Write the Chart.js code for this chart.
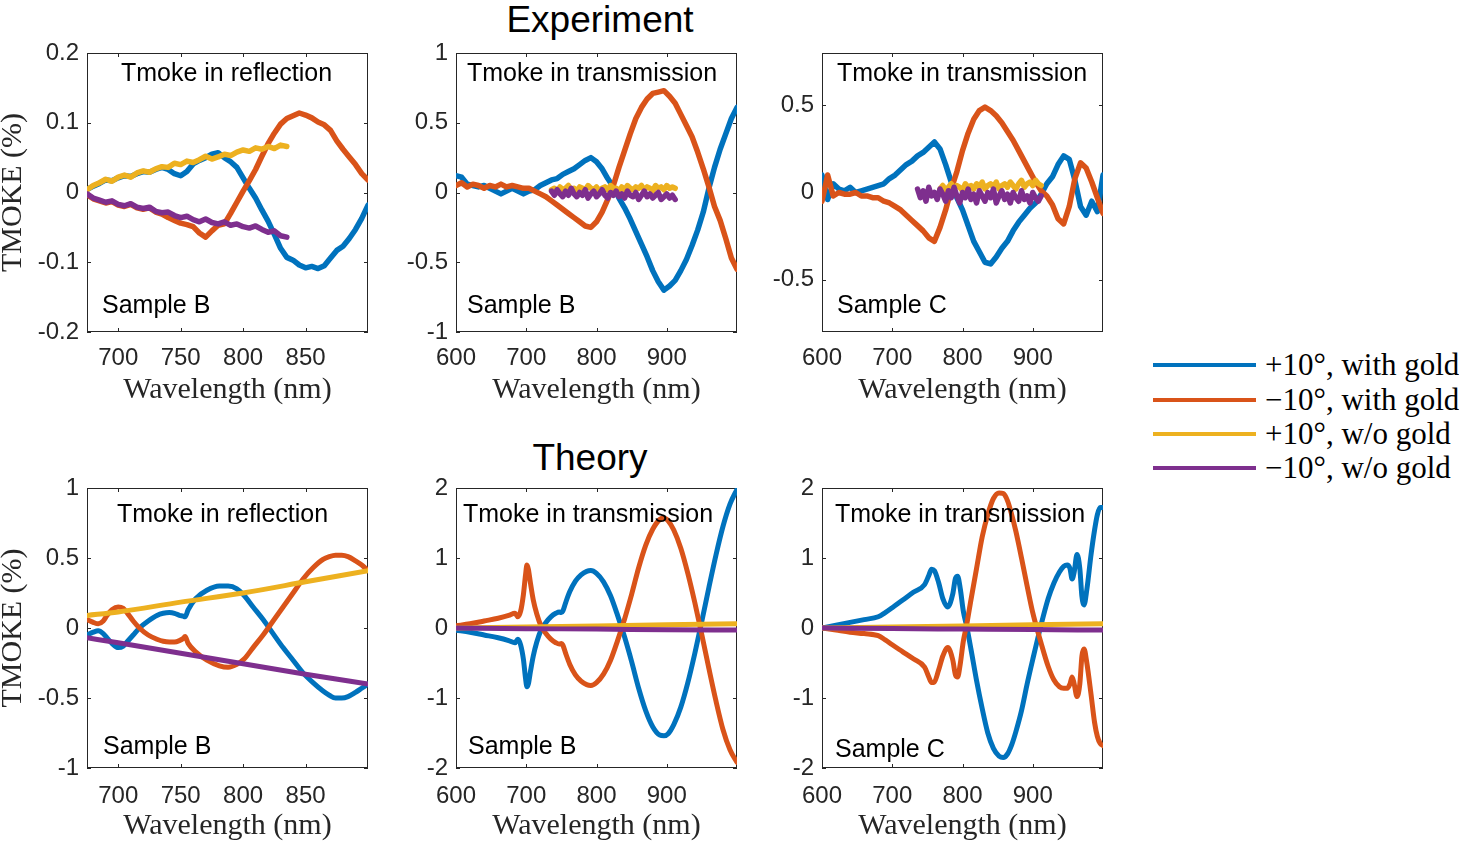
<!DOCTYPE html>
<html>
<head>
<meta charset="utf-8">
<script src="https://cdn.jsdelivr.net/npm/chart.js@4.4.1/dist/chart.umd.min.js"></script>
<style>
  body { margin: 0; background: #fff; }
  #fig { position: relative; width: 1459px; height: 842px; overflow: hidden; background: #fff; }
  #fig canvas { position: absolute; }
  .hdr { position: absolute; font-family: "Liberation Sans", Arial, sans-serif; font-size: 37px; color: #000;
         transform: translate(-50%, -50%); white-space: nowrap; }
  .legline { position: absolute; left: 1153px; width: 103px; height: 4px; }
  .legtxt { position: absolute; left: 1265px; font-family: "Liberation Serif", serif; font-size: 31px; color: #000;
            transform: translateY(-50%); white-space: nowrap; }
</style>
</head>
<body>
<div id="fig">
  <div class="hdr" style="left:600px; top:20px;">Experiment</div>
  <div class="hdr" style="left:590px; top:458px;">Theory</div>
  <canvas id="tl"></canvas>
  <canvas id="tm"></canvas>
  <canvas id="tr"></canvas>
  <canvas id="bl"></canvas>
  <canvas id="bm"></canvas>
  <canvas id="br"></canvas>
  <div id="legend"></div>
</div>
<script>
// series
const seriesLabels = ['+10°, with gold', '\u221210°, with gold', '+10°, w/o gold', '\u221210°, w/o gold'];
const seriesColors = ['#0072BD', '#D95319', '#EDB120', '#7E2F8E'];

// ticks
const tlTicksX = [700, 750, 800, 850];
const wideTicksX = [600, 700, 800, 900];
const tlTicksY = [-0.2, -0.1, 0, 0.1, 0.2];
const tmTicksY = [-1, -0.5, 0, 0.5, 1];
const trTicksY = [-0.5, 0, 0.5];
const blTicksY = [-1, -0.5, 0, 0.5, 1];
const theoryTicksY = [-2, -1, 0, 1, 2];

// experiment, reflection, sample B
const tlWl = [675,680,685,690,695,700,705,710,715,720,725,730,735,740,745,750,755,760,765,770,
  775,780,785,790,795,800,805,810,815,820,825,830,835,840,845,850,855,860,865,870,875,880,885,890,895,900];
const tlPlusGold = [0.004,0.009,0.013,0.018,0.017,0.021,0.024,0.023,0.027,0.030,
  0.029,0.033,0.036,0.033,0.027,0.024,0.030,0.041,0.046,0.050,
  0.055,0.057,0.050,0.044,0.036,0.021,0.006,-0.008,-0.025,-0.041,
  -0.060,-0.080,-0.093,-0.097,-0.104,-0.108,-0.106,-0.109,-0.105,-0.094,
  -0.083,-0.077,-0.066,-0.053,-0.037,-0.018];
const tlMinusGold = [-0.003,-0.009,-0.012,-0.015,-0.013,-0.018,-0.020,-0.017,-0.022,-0.024,
  -0.022,-0.028,-0.031,-0.036,-0.040,-0.044,-0.046,-0.049,-0.058,-0.064,
  -0.055,-0.047,-0.045,-0.030,-0.014,0.002,0.017,0.033,0.052,0.070,
  0.085,0.098,0.106,0.110,0.114,0.111,0.107,0.101,0.097,0.089,
  0.074,0.062,0.051,0.040,0.027,0.018];
const tlNoGoldWl = [675,680,685,690,695,700,705,710,715,720,725,730,735,740,745,750,755,760,765,770,
  775,780,785,790,795,800,805,810,815,820,825,830,835];
const tlPlusNoGold = [0.004,0.010,0.014,0.019,0.016,0.022,0.025,0.022,0.028,0.031,
  0.029,0.034,0.037,0.036,0.042,0.040,0.045,0.043,0.047,0.052,
  0.048,0.051,0.055,0.053,0.058,0.061,0.059,0.064,0.062,0.066,0.063,0.068,0.066];
const tlMinusNoGold = [-0.002,-0.008,-0.011,-0.014,-0.012,-0.017,-0.019,-0.016,-0.021,-0.023,
  -0.021,-0.027,-0.029,-0.028,-0.033,-0.036,-0.034,-0.039,-0.042,-0.038,
  -0.043,-0.045,-0.042,-0.047,-0.045,-0.049,-0.051,-0.048,-0.053,-0.057,-0.055,-0.062,-0.064];

// experiment, transmission (shared wavelength grid)
const expWl = [600,608,616,624,632,640,648,656,664,672,680,688,696,704,712,720,728,736,744,752,
  760,768,776,784,792,800,808,816,824,832,840,848,856,864,872,880,888,896,904,912,
  920,928,936,944,952,960,968,976,984,992,1000];
const tmPlusGold = [0.12,0.11,0.06,0.05,0.04,0.05,0.03,0.01,-0.01,0.01,
  0.03,0.01,-0.01,0.01,0.02,0.05,0.07,0.09,0.10,0.13,
  0.15,0.17,0.20,0.23,0.25,0.22,0.17,0.10,0.04,-0.04,
  -0.11,-0.19,-0.28,-0.37,-0.46,-0.56,-0.64,-0.70,-0.67,-0.63,
  -0.56,-0.48,-0.38,-0.27,-0.14,0.03,0.18,0.31,0.42,0.53,0.61];
const tmMinusGold = [0.05,0.07,0.04,0.06,0.05,0.03,0.05,0.04,0.06,0.04,
  0.05,0.04,0.03,0.03,0.01,-0.01,-0.03,-0.06,-0.09,-0.12,
  -0.15,-0.18,-0.21,-0.24,-0.25,-0.21,-0.14,-0.05,0.05,0.18,
  0.30,0.42,0.53,0.61,0.67,0.71,0.72,0.73,0.69,0.64,
  0.56,0.48,0.40,0.29,0.17,0.04,-0.10,-0.20,-0.33,-0.47,-0.55];
const tmNoGoldWl = [736,740,744,748,752,756,760,764,768,772,776,780,784,788,792,796,800,804,808,812,
  816,820,824,828,832,836,840,844,848,852,856,860,864,868,872,876,880,884,888,892,896,900,904,908,912];
const tmPlusNoGold = [0.02,0.03,0.01,0.04,0.02,0.03,0.05,0.02,0.03,0.01,
  0.04,0.03,0.02,0.05,0.03,0.02,0.04,0.01,0.03,0.04,
  0.02,0.05,0.03,0.03,0.01,0.04,0.02,0.05,0.03,0.02,
  0.04,0.03,0.05,0.02,0.04,0.03,0.01,0.05,0.03,0.04,
  0.02,0.05,0.03,0.04,0.03];
const tmMinusNoGold = [0.01,-0.02,0.02,-0.01,-0.03,0.01,-0.02,0.03,-0.01,-0.03,
  0.00,-0.02,0.02,-0.04,-0.01,0.01,-0.03,-0.01,0.02,-0.02,
  -0.04,0.00,-0.02,0.01,-0.03,-0.01,-0.04,0.01,-0.02,-0.03,
  0.00,-0.05,-0.02,0.01,-0.03,-0.01,-0.04,-0.02,0.00,-0.05,
  -0.03,-0.01,-0.04,-0.02,-0.05];

const trPlusGold = [0.10,-0.04,0.05,0.02,0.01,0.03,0.00,0.01,0.02,0.03,
  0.04,0.05,0.08,0.10,0.13,0.16,0.18,0.21,0.23,0.26,
  0.29,0.25,0.16,0.06,-0.03,-0.10,-0.19,-0.28,-0.34,-0.40,
  -0.41,-0.37,-0.32,-0.28,-0.22,-0.17,-0.13,-0.09,-0.06,-0.01,
  0.05,0.09,0.16,0.21,0.19,0.07,-0.08,-0.13,-0.05,-0.11,0.10];
const trMinusGold = [-0.05,0.10,-0.02,0.00,-0.01,-0.01,0.00,-0.02,-0.02,-0.03,
  -0.03,-0.05,-0.06,-0.08,-0.10,-0.13,-0.16,-0.19,-0.22,-0.26,
  -0.28,-0.20,-0.10,0.02,0.12,0.24,0.34,0.42,0.47,0.49,
  0.47,0.44,0.40,0.35,0.30,0.24,0.18,0.12,0.06,0.01,
  -0.02,-0.07,-0.15,-0.18,-0.08,0.08,0.17,0.14,0.06,-0.03,-0.12];
const trPlusNoGoldWl = [768,772,776,780,784,788,792,796,800,804,808,812,816,820,824,828,832,836,840,844,
  848,852,856,860,864,868,872,876,880,884,888,892,896,900,904,908,912];
const trPlusNoGold = [0.02,0.04,0.01,0.03,0.05,0.02,0.04,0.03,0.01,0.05,
  0.03,0.04,0.02,0.05,0.03,0.06,0.02,0.04,0.05,0.03,
  0.06,0.02,0.04,0.05,0.03,0.06,0.04,0.02,0.05,0.07,
  0.03,0.05,0.06,0.04,0.07,0.05,0.04];
const trMinusNoGoldWl = [736,740,744,748,752,756,760,764,768,772,776,780,784,788,792,796,800,804,808,812,
  816,820,824,828,832,836,840,844,848,852,856,860,864,868,872,876,880,884,888,892,896,900,904,908,912];
const trMinusNoGold = [0.02,-0.03,0.01,-0.05,0.03,-0.02,0.00,-0.04,0.02,-0.01,
  -0.05,0.01,-0.03,0.03,-0.02,-0.06,0.00,-0.03,0.02,-0.04,
  -0.01,-0.06,0.01,-0.02,-0.05,0.00,-0.03,0.02,-0.06,-0.02,
  0.01,-0.04,-0.01,-0.06,0.00,-0.03,-0.05,0.01,-0.04,-0.02,
  -0.06,0.00,-0.03,-0.05,-0.02];

// theory, reflection, sample B
const blWl = [675,680,684,688,691,695,700,704,707,712,717,724,731,736,741,745,749,752,753.5,756,
  762,771,781,788,795,801,808,816,824,832,840,848,856,864,869,874,879,884,890,895,900];
const blPlusGold = [-0.05,-0.03,-0.02,-0.04,-0.07,-0.11,-0.14,-0.13,-0.10,-0.05,
  0.00,0.05,0.09,0.105,0.11,0.105,0.09,0.085,0.08,0.13,
  0.21,0.27,0.30,0.30,0.28,0.23,0.15,0.06,-0.04,-0.14,
  -0.23,-0.32,-0.39,-0.45,-0.48,-0.50,-0.50,-0.49,-0.46,-0.43,-0.40];
const blMinusGold = [0.06,0.04,0.03,0.05,0.09,0.13,0.15,0.14,0.11,0.05,
  0.00,-0.05,-0.08,-0.095,-0.10,-0.10,-0.09,-0.075,-0.06,-0.11,
  -0.17,-0.23,-0.27,-0.28,-0.26,-0.22,-0.14,-0.05,0.05,0.15,
  0.25,0.35,0.43,0.49,0.51,0.52,0.52,0.51,0.48,0.45,0.41];
const blNoGoldWl = [675,700,750,800,850,900];
const blPlusNoGold = [0.09,0.115,0.185,0.25,0.33,0.41];
const blMinusNoGold = [-0.07,-0.105,-0.18,-0.255,-0.33,-0.40];

// theory, transmission, sample B
const bmWl = [600,620,640,660,675,684,688,692,696,699,701,703,706,710,715,721,728,735,742,747,
  750,752,756,762,770,778,786,792,800,810,820,830,840,850,860,870,880,890,896,902,
  910,920,930,940,950,960,970,980,990,1000];
const bmPlusGold = [-0.03,-0.06,-0.10,-0.14,-0.18,-0.21,-0.16,-0.24,-0.45,-0.72,
  -0.84,-0.80,-0.62,-0.40,-0.20,-0.03,0.08,0.16,0.21,0.23,
  0.22,0.24,0.36,0.52,0.67,0.76,0.81,0.82,0.78,0.66,
  0.46,0.18,-0.13,-0.48,-0.86,-1.18,-1.41,-1.53,-1.54,-1.51,
  -1.38,-1.13,-0.78,-0.36,0.10,0.58,1.04,1.45,1.77,1.98];
const bmMinusGold = [0.03,0.06,0.10,0.14,0.18,0.21,0.16,0.24,0.48,0.76,
  0.90,0.84,0.64,0.40,0.20,0.03,-0.08,-0.16,-0.21,-0.23,
  -0.22,-0.24,-0.36,-0.52,-0.67,-0.76,-0.81,-0.82,-0.78,-0.66,
  -0.46,-0.18,0.13,0.48,0.86,1.18,1.41,1.55,1.57,1.53,
  1.40,1.14,0.78,0.36,-0.10,-0.58,-1.04,-1.45,-1.74,-1.92];
const bmNoGoldWl = [600,700,800,900,1000];
const bmPlusNoGold = [0.00,0.015,0.03,0.045,0.06];
const bmMinusNoGold = [0.00,-0.01,-0.015,-0.025,-0.03];

// theory, transmission, sample C
const brWl = [600,620,640,660,680,690,700,715,730,746,752,756,760,766,772,779,786,790,793,797,
  801,806,812,820,828,836,844,852,858,864,870,876,884,892,900,912,922,930,938,944,
  949,953,956,959,963,967,970,973,977,983,988,992,996,1000];
const brPlusGold = [0.00,0.04,0.08,0.12,0.16,0.22,0.29,0.40,0.51,0.62,
  0.75,0.84,0.82,0.65,0.42,0.30,0.48,0.71,0.74,0.55,
  0.25,0.02,-0.30,-0.75,-1.15,-1.50,-1.72,-1.83,-1.85,-1.80,
  -1.67,-1.48,-1.18,-0.80,-0.45,0.05,0.42,0.64,0.80,0.88,
  0.90,0.85,0.70,0.80,1.05,0.85,0.45,0.33,0.55,1.05,
  1.40,1.62,1.72,1.72];
const brMinusGold = [0.00,-0.03,-0.06,-0.08,-0.11,-0.17,-0.24,-0.34,-0.44,-0.56,
  -0.70,-0.78,-0.77,-0.60,-0.40,-0.28,-0.45,-0.67,-0.70,-0.50,
  -0.20,0.05,0.40,0.85,1.30,1.62,1.85,1.93,1.92,1.82,
  1.62,1.38,1.00,0.60,0.22,-0.22,-0.55,-0.74,-0.84,-0.86,
  -0.86,-0.80,-0.70,-0.80,-0.98,-0.80,-0.40,-0.30,-0.50,-0.95,
  -1.35,-1.55,-1.65,-1.68];
const brNoGoldWl = [600,700,800,900,1000];
const brPlusNoGold = [0.00,0.015,0.03,0.045,0.06];
const brMinusNoGold = [0.00,-0.008,-0.015,-0.022,-0.03];

// frame, inside ticks and the panel texts
const framePlugin = {
  id: 'frame',
  beforeDatasetsDraw(chart) {
    const { ctx, chartArea: a, scales: { x, y } } = chart;
    ctx.save();
    ctx.strokeStyle = '#262626';
    ctx.lineWidth = 1;
    ctx.strokeRect(Math.round(a.left) + 0.5, Math.round(a.top) + 0.5, Math.round(a.width) - 1, Math.round(a.height) - 1);
    ctx.beginPath();
    x.ticks.forEach(t => {
      const px = Math.round(x.getPixelForValue(t.value)) + 0.5;
      ctx.moveTo(px, a.bottom); ctx.lineTo(px, a.bottom - 4);
      ctx.moveTo(px, a.top); ctx.lineTo(px, a.top + 4);
    });
    y.ticks.forEach(t => {
      const py = Math.round(y.getPixelForValue(t.value)) + 0.5;
      ctx.moveTo(a.left, py); ctx.lineTo(a.left + 4, py);
      ctx.moveTo(a.right, py); ctx.lineTo(a.right - 4, py);
    });
    ctx.stroke();
    ctx.restore();
  },
  afterDatasetsDraw(chart, args, opts) {
    const { ctx, chartArea: a } = chart;
    ctx.save();
    ctx.fillStyle = '#000';
    ctx.font = '25px "Liberation Sans", Arial, sans-serif';
    ctx.textBaseline = 'middle';
    (opts.texts || []).forEach(t => {
      ctx.textAlign = t.align || 'left';
      const px = t.align === 'center' ? a.left + a.width / 2 + t.dx : a.left + t.dx;
      const py = t.fromBottom ? a.bottom - t.dy : a.top + t.dy;
      ctx.fillText(t.text, px, py);
    });
    ctx.restore();
  }
};

const tickFont = { family: '"Liberation Sans", Arial, sans-serif', size: 24 };
const serifFont = { family: '"Liberation Serif", "Times New Roman", serif', size: 30 };
const PAD_TOP = 24, PAD_RIGHT = 12, Y_W = 87, X_H = 75;

function makePanel(id, p) {
  const cv = document.getElementById(id);
  cv.width = p.right - p.left + Y_W + PAD_RIGHT;
  cv.height = p.bottom - p.top + PAD_TOP + X_H;
  cv.style.left = (p.left - Y_W) + 'px';
  cv.style.top = (p.top - PAD_TOP) + 'px';

  const datasets = p.series.map((s, i) => ({
    label: seriesLabels[i],
    data: s[0].map((wl, k) => ({ x: wl, y: s[1][k] })),
    borderColor: seriesColors[i],
    backgroundColor: seriesColors[i],
    borderWidth: p.smooth ? 5 : 5.5,
    pointRadius: 0,
    fill: false,
    order: 4 - i,
    tension: 0,
    cubicInterpolationMode: p.smooth ? 'monotone' : 'default',
    borderJoinStyle: 'round',
    borderCapStyle: 'round'
  }));

  return new Chart(cv, {
    type: 'line',
    data: { datasets },
    options: {
      responsive: false,
      animation: false,
      devicePixelRatio: 1,
      layout: { padding: { top: PAD_TOP, right: PAD_RIGHT, left: 0, bottom: 0 } },
      plugins: {
        legend: { display: false },
        tooltip: { enabled: false },
        frame: { texts: p.texts }
      },
      scales: {
        x: {
          type: 'linear',
          min: p.xMin,
          max: p.xMax,
          afterBuildTicks: s => { s.ticks = p.xTicks.map(v => ({ value: v })); },
          afterFit: s => { s.height = X_H; },
          grid: { display: false, drawTicks: false },
          border: { display: false },
          ticks: { font: tickFont, color: '#262626', padding: p.tickPad || 12, maxRotation: 0, autoSkip: false,
                   callback: v => String(v) },
          title: { display: true, text: 'Wavelength (nm)', color: '#262626',
                   font: Object.assign({ lineHeight: 1 }, serifFont), padding: { top: 0, bottom: 2 } }
        },
        y: {
          type: 'linear',
          min: p.yMin,
          max: p.yMax,
          afterBuildTicks: s => { s.ticks = p.yTicks.map(v => ({ value: v })); },
          afterFit: s => { s.width = Y_W; },
          grid: { display: false, drawTicks: false },
          border: { display: false },
          ticks: { font: tickFont, color: '#262626', padding: 8, autoSkip: false,
                   callback: v => String(v) },
          title: { display: !!p.yTitle, text: 'TMOKE (%)', color: '#262626',
                   font: Object.assign({ lineHeight: 0.85 }, serifFont), padding: 0 }
        }
      }
    },
    plugins: [framePlugin]
  });
}

const colL = [87, 456, 822];
const rowT = [53, 488];
const rowB = [332, 768];
const plotW = 281;

makePanel('tl', {
  left: colL[0], right: colL[0] + plotW, top: rowT[0], bottom: rowB[0],
  xMin: 675, xMax: 900, yMin: -0.2, yMax: 0.2, xTicks: tlTicksX, yTicks: tlTicksY, yTitle: true,
  series: [[tlWl, tlPlusGold], [tlWl, tlMinusGold], [tlNoGoldWl, tlPlusNoGold], [tlNoGoldWl, tlMinusNoGold]],
  texts: [{ text: 'Tmoke in reflection', align: 'center', dx: -1, dy: 21 },
          { text: 'Sample B', dx: 15, dy: 26, fromBottom: true }]
});
makePanel('tm', {
  left: colL[1], right: colL[1] + plotW, top: rowT[0], bottom: rowB[0],
  xMin: 600, xMax: 1000, yMin: -1, yMax: 1, xTicks: wideTicksX, yTicks: tmTicksY,
  series: [[expWl, tmPlusGold], [expWl, tmMinusGold], [tmNoGoldWl, tmPlusNoGold], [tmNoGoldWl, tmMinusNoGold]],
  texts: [{ text: 'Tmoke in transmission', dx: 11, dy: 21 },
          { text: 'Sample B', dx: 11, dy: 26, fromBottom: true }]
});
makePanel('tr', {
  left: colL[2], right: colL[2] + plotW, top: rowT[0], bottom: rowB[0],
  xMin: 600, xMax: 1000, yMin: -0.8, yMax: 0.8, xTicks: wideTicksX, yTicks: trTicksY,
  series: [[expWl, trPlusGold], [expWl, trMinusGold], [trPlusNoGoldWl, trPlusNoGold], [trMinusNoGoldWl, trMinusNoGold]],
  texts: [{ text: 'Tmoke in transmission', dx: 15, dy: 21 },
          { text: 'Sample C', dx: 15, dy: 26, fromBottom: true }]
});
makePanel('bl', {
  left: colL[0], right: colL[0] + plotW, top: rowT[1], bottom: rowB[1], smooth: true, tickPad: 14,
  xMin: 675, xMax: 900, yMin: -1, yMax: 1, xTicks: tlTicksX, yTicks: blTicksY, yTitle: true,
  series: [[blWl, blPlusGold], [blWl, blMinusGold], [blNoGoldWl, blPlusNoGold], [blNoGoldWl, blMinusNoGold]],
  texts: [{ text: 'Tmoke in reflection', align: 'center', dx: -5, dy: 27 },
          { text: 'Sample B', dx: 16, dy: 21, fromBottom: true }]
});
makePanel('bm', {
  left: colL[1], right: colL[1] + plotW, top: rowT[1], bottom: rowB[1], smooth: true, tickPad: 14,
  xMin: 600, xMax: 1000, yMin: -2, yMax: 2, xTicks: wideTicksX, yTicks: theoryTicksY,
  series: [[bmWl, bmPlusGold], [bmWl, bmMinusGold], [bmNoGoldWl, bmPlusNoGold], [bmNoGoldWl, bmMinusNoGold]],
  texts: [{ text: 'Tmoke in transmission', dx: 7, dy: 27 },
          { text: 'Sample B', dx: 12, dy: 21, fromBottom: true }]
});
makePanel('br', {
  left: colL[2], right: colL[2] + plotW, top: rowT[1], bottom: rowB[1], smooth: true, tickPad: 14,
  xMin: 600, xMax: 1000, yMin: -2, yMax: 2, xTicks: wideTicksX, yTicks: theoryTicksY,
  series: [[brWl, brPlusGold], [brWl, brMinusGold], [brNoGoldWl, brPlusNoGold], [brNoGoldWl, brMinusNoGold]],
  texts: [{ text: 'Tmoke in transmission', dx: 13, dy: 27 },
          { text: 'Sample C', dx: 13, dy: 18, fromBottom: true }]
});

// legend
const legendY = [365, 400, 434, 468];
const legend = document.getElementById('legend');
seriesLabels.forEach((lab, i) => {
  const ln = document.createElement('div');
  ln.className = 'legline';
  ln.style.top = (legendY[i] - 2) + 'px';
  ln.style.background = seriesColors[i];
  legend.appendChild(ln);
  const tx = document.createElement('div');
  tx.className = 'legtxt';
  tx.style.top = legendY[i] + 'px';
  tx.textContent = lab;
  legend.appendChild(tx);
});
</script>
</body>
</html>
